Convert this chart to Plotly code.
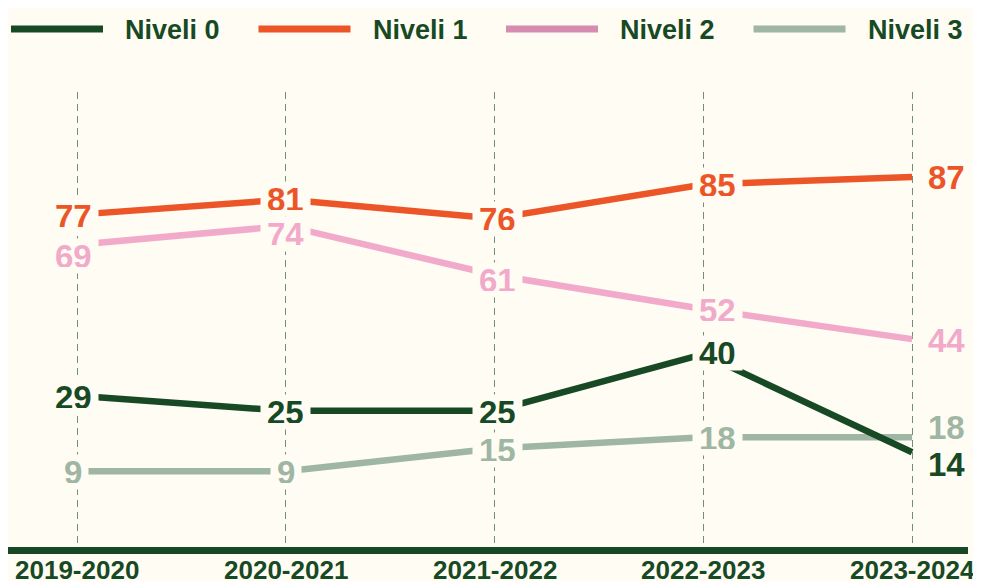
import plotly.graph_objects as go

# ---- data ----
years = ["2019-2020", "2020-2021", "2021-2022", "2022-2023", "2023-2024"]
series_names = ["Niveli 0", "Niveli 1", "Niveli 2", "Niveli 3"]
niveli_0 = [29, 25, 25, 40, 14]
niveli_1 = [77, 81, 76, 85, 87]
niveli_2 = [69, 74, 61, 52, 44]
niveli_3 = [9, 9, 15, 18, 18]

# ---- style ----
BG = "#fffcf4"
DARK = "#174a24"
line_colors = ["#174a24", "#eb5528", "#f2aacb", "#9eb6a3"]
legend_colors = ["#174a24", "#eb5528", "#d68bb0", "#9eb6a3"]
FONT = "Liberation Sans"

OFF = 8  # page body margin
W, H = 981 - OFF, 581 - OFF
ML = 8 - OFF
MR = W - (968 - OFF)
MT = 92 - OFF
MB = H - (547 - OFF)
PW = W - ML - MR
PH = H - MT - MB

all_series = [niveli_0, niveli_1, niveli_2, niveli_3]

fig = go.Figure()
# draw back to front so Niveli 0 sits on top
for idx in [3, 2, 1, 0]:
    fig.add_trace(go.Scatter(
        x=years, y=all_series[idx], mode="lines", name=series_names[idx],
        line=dict(color=line_colors[idx], width=6.5),
        showlegend=False, hoverinfo="skip"))

col_xshift = [-4, 0, 3, 14]
label_yshift = [
    [0, 0, 0, 2],
    [0, 2, 0, 0],
    [-10, -7, -4, 0],
    [0, 0, 0, 0],
]
end_yshift = [-11, 0, 0, 11]
annotations = []
for idx, vals in enumerate(all_series):
    for j, v in enumerate(vals):
        if j < len(years) - 1:
            annotations.append(dict(
                x=years[j], y=v, xref="x", yref="y", text=str(v),
                showarrow=False, xanchor="center", yanchor="middle",
                xshift=col_xshift[j], yshift=label_yshift[idx][j] - 1,
                font=dict(family=FONT, size=33, color=line_colors[idx], weight="bold"),
                bgcolor=BG, borderpad=6, height=22))
        else:
            annotations.append(dict(
                x=years[j], y=v, xref="x", yref="y", text=str(v),
                showarrow=False, xanchor="left", yanchor="middle",
                xshift=14, yshift=end_yshift[idx] - 1,
                font=dict(family=FONT, size=33, color=line_colors[idx], weight="bold")))

# category labels under the axis line
for yr in years:
    annotations.append(dict(
        x=yr, y=0, xref="x", yref="paper", text=yr,
        showarrow=False, xanchor="center", yanchor="top", yshift=-6,
        font=dict(family=FONT, size=26, color=DARK, weight="bold")))

# custom legend (layout only), positions in page pixels
shapes = []
step = 247.5
for i, name in enumerate(series_names):
    x0 = 11 + step * i - OFF
    x1 = 103 + step * i - OFF
    ly = 29 - OFF
    yp = (H - MB - ly) / PH
    shapes.append(dict(type="line", xref="paper", yref="paper",
                       x0=(x0 - ML) / PW, x1=(x1 - ML) / PW, y0=yp, y1=yp,
                       line=dict(color=legend_colors[i], width=7)))
    annotations.append(dict(
        x=(123 + step * i - OFF - ML) / PW, y=yp, xref="paper", yref="paper",
        text=name, showarrow=False, xanchor="left", yanchor="middle", yshift=-1,
        font=dict(family=FONT, size=27, color=DARK, weight="bold")))

fig.update_layout(
    width=W, height=H,
    margin=dict(l=ML, r=MR, t=MT, b=MB, pad=0, autoexpand=False),
    paper_bgcolor=BG, plot_bgcolor=BG,
    showlegend=False,
    annotations=annotations,
    shapes=shapes,
    xaxis=dict(
        type="category", range=[-0.331, 4.268], automargin=False,
        showgrid=True, gridcolor="#6f9078", gridwidth=1, griddash="7px,5px",
        showline=True, linecolor=DARK, linewidth=7,
        ticks="", showticklabels=False,
        zeroline=False, fixedrange=True),
    yaxis=dict(
        range=[-11.1, 109.5], showgrid=False, showticklabels=False,
        automargin=False,
        zeroline=False, showline=False, ticks="", fixedrange=True),
)

fig.write_html("out.html")
